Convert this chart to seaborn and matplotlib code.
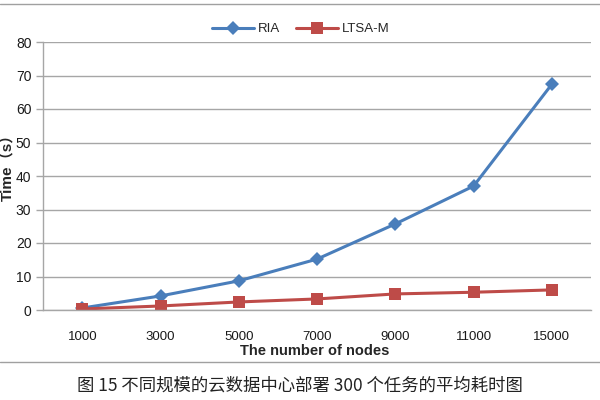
import numpy as np
import pandas as pd
import matplotlib
matplotlib.use('Agg')
import matplotlib.pyplot as plt
import seaborn as sns

nodes = ['1000', '3000', '5000', '7000', '9000', '11000', '15000']
ria = [0.6, 4.2, 8.7, 15.2, 25.7, 37.0, 67.4]
ltsa_m = [0.3, 1.2, 2.4, 3.3, 4.8, 5.3, 6.0]
series_names = ['RIA', 'LTSA-M']
colors = ['#4A7EBB', '#BE4B48']
markers = ['D', 's']

sns.set_theme(style='white')
plt.rcParams['font.family'] = ['Liberation Sans', 'Noto Sans CJK SC', 'DejaVu Sans']

df = pd.DataFrame({
    'nodes': nodes * 2,
    'time': ria + ltsa_m,
    'alg': [series_names[0]] * len(nodes) + [series_names[1]] * len(nodes),
})
df['pos'] = np.tile(np.arange(len(nodes)), 2)

fig = plt.figure(figsize=(6, 4), dpi=100)
ax = fig.add_axes([0.072, 0.225, 0.913, 0.67])

for name, col, mk in zip(series_names, colors, markers):
    sub = df[df['alg'] == name]
    sns.lineplot(data=sub, x='pos', y='time', ax=ax, color=col, linewidth=2.2,
                 marker=mk, markersize=7 if mk == 'D' else 8, markeredgewidth=0,
                 label=name)

ax.set_xlim(-0.5, len(nodes) - 0.5)
ax.set_ylim(0, 80)
ax.set_yticks(range(0, 81, 10))
ax.yaxis.grid(True, color='#A6A6A6', linewidth=1)
ax.set_axisbelow(True)

ax.set_xticks(range(len(nodes)))
ax.set_xticklabels(nodes)
ax.set_xticks(np.arange(-0.5, len(nodes)), minor=True)
ax.tick_params(axis='x', which='major', length=0, pad=15, labelsize=9.5, colors='#1a1a1a')
ax.tick_params(axis='x', which='minor', length=6, width=1, color='#A6A6A6', direction='out')
ax.tick_params(axis='y', length=5, width=1, color='#A6A6A6', direction='out', labelsize=10,
               labelcolor='#1a1a1a', left=True)

for s in ['top', 'right']:
    ax.spines[s].set_visible(False)
for s in ['left', 'bottom']:
    ax.spines[s].set_color('#A6A6A6')
    ax.spines[s].set_linewidth(1)

ax.set_xlabel('')
ax.set_ylabel('')
fig.text(0.525, 0.122, 'The number of nodes', ha='center', va='center',
         fontsize=10.5, fontweight='bold')
fig.text(0.012, 0.59, 'Time（s）', ha='center', va='center', rotation=90,
         fontsize=11, fontweight='bold')

leg = ax.legend(loc='lower center', bbox_to_anchor=(0.47, 1.0), ncol=2, frameon=False,
                fontsize=9.5, handlelength=3.2, columnspacing=1.2, handletextpad=0.3,
                borderaxespad=0.1)

fig.add_artist(plt.Line2D([0, 1], [0.99, 0.99], color='#A0A0A0', linewidth=1))
fig.add_artist(plt.Line2D([0, 1], [0.095, 0.095], color='#A0A0A0', linewidth=1))
fig.text(0.5, 0.037, '图 15 不同规模的云数据中心部署 300 个任务的平均耗时图',
         ha='center', va='center', fontsize=12.5, color='#222222',
         family=['Noto Sans CJK SC', 'DejaVu Sans'])

fig.savefig('out.png', dpi=100)
